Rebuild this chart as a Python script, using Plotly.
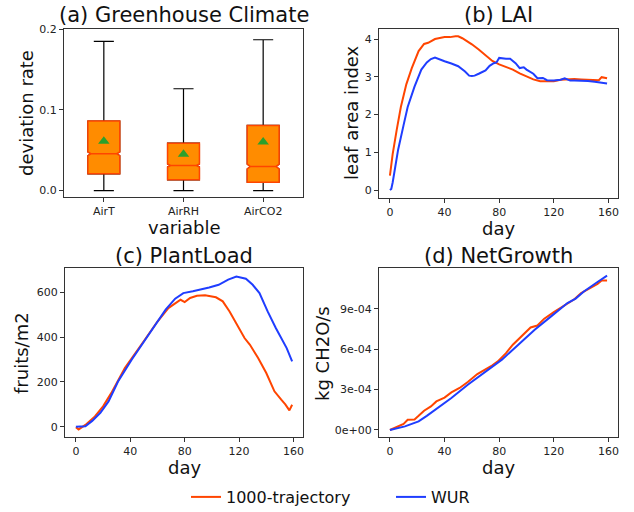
import plotly.graph_objects as go

# ---------------- data ----------------
variables = ["AirT", "AirRH", "AirCO2"]
box_q1 = [0.0207, 0.0133, 0.0104]
box_median = [0.0455, 0.0310, 0.0297]
box_q3 = [0.0860, 0.0587, 0.0806]
box_low = [0.0, 0.0, 0.0]
box_high = [0.1847, 0.1260, 0.1867]
box_mean = [0.0610, 0.0450, 0.0600]
box_notch = [0.0022, 0.0018, 0.0030]

lai_days_traj = [0, 2, 5, 8, 12, 16, 21, 25, 28, 33, 40, 44, 48, 50, 53, 56, 60, 65, 70, 75,
                 80, 85, 90, 95, 100, 105, 110, 115, 120, 125, 130, 135, 140, 145, 150, 153, 155, 157, 159]
lai_traj = [0.38, 0.95, 1.6, 2.2, 2.8, 3.23, 3.68, 3.87, 3.9, 4.0, 4.05, 4.05, 4.07, 4.07, 4.02, 3.96, 3.86, 3.72, 3.56, 3.42,
            3.33, 3.27, 3.19, 3.09, 3.0, 2.93, 2.88, 2.87, 2.88, 2.92, 2.94, 2.94, 2.93, 2.93, 2.92, 2.91, 2.99, 2.98, 2.96]
lai_days_wur = [0, 1, 2, 4, 6, 10, 13, 18, 23, 27, 30, 33, 36, 40, 45, 48, 50, 55, 58, 60,
                62, 65, 70, 73, 76, 78, 80, 85, 88, 92, 95, 98, 100, 105, 108, 112, 115, 120, 125, 128,
                132, 135, 140, 145, 150, 155, 159]
lai_wur = [0.0, 0.03, 0.2, 0.65, 1.07, 1.72, 2.2, 2.74, 3.19, 3.38, 3.47, 3.51, 3.46, 3.41, 3.35, 3.3, 3.28, 3.14, 3.03, 3.02,
           3.03, 3.08, 3.17, 3.29, 3.36, 3.38, 3.50, 3.48, 3.48, 3.36, 3.23, 3.25, 3.19, 3.08, 2.96, 2.97, 2.91, 2.90, 2.92, 2.96,
           2.90, 2.90, 2.90, 2.89, 2.87, 2.85, 2.82]

pl_days_traj = [0, 2, 4, 7, 14, 20, 26, 36, 49, 60, 68, 77, 80, 84, 89, 95, 103, 108, 113, 118,
                124, 128, 134, 140, 146, 151, 154, 157, 159]
pl_traj = [-2, -12, -4, 8, 46, 91, 150, 262, 374, 470, 530, 567, 557, 575, 585, 587, 578, 560, 515, 463,
           396, 366, 307, 240, 158, 121, 100, 73, 98]
pl_days_wur = [0, 4, 7, 12, 18, 24, 31, 41, 51, 58, 66, 73, 79, 86, 92, 98, 105, 112, 118, 125,
               130, 135, 141, 147, 155, 159]
pl_wur = [0, 0, 2, 26, 62, 113, 202, 299, 389, 456, 523, 572, 597, 605, 612, 622, 634, 657, 671, 661,
          634, 597, 515, 441, 351, 292]

ng_days_traj = [0, 3, 6, 10, 13, 18, 21, 25, 30, 34, 40, 45, 51, 57, 64, 70, 75, 79, 85, 90,
                97, 103, 108, 113, 120, 129, 135, 140, 146, 152, 155, 159]
ng_traj_e4 = [0, 0.12, 0.27, 0.45, 0.76, 0.78, 1.05, 1.43, 1.75, 2.12, 2.4, 2.79, 3.12, 3.56, 4.15, 4.5, 4.8, 5.09, 5.7, 6.33,
              7.0, 7.61, 7.75, 8.26, 8.75, 9.35, 9.7, 10.16, 10.5, 10.83, 11.1, 11.1]
ng_days_wur = [0, 5, 11, 16, 21, 27, 33, 45, 57, 69, 82, 94, 106, 118, 130, 136, 142, 152, 159]
ng_wur_e4 = [0, 0.1, 0.27, 0.45, 0.64, 1.05, 1.5, 2.37, 3.36, 4.23, 5.22, 6.33, 7.44, 8.43, 9.42, 9.75, 10.28, 10.98, 11.45]

day_ticks = [0, 40, 80, 120, 160]
ng_tickvals = [0, 3e-4, 6e-4, 9e-4]
ng_ticktext = ["0e+00", "3e-04", "6e-04", "9e-04"]

# ---------------- figure ----------------
W, H = 634, 512
C_TRAJ = "#ff4500"
C_WUR = "#1f3dff"
FONT = "DejaVu Sans"


def dx(a, b):
    return [a / W, b / W]


def dy(top, bottom):
    return [1 - bottom / H, 1 - top / H]


fig = go.Figure()

# (a) boxes: black whiskers underneath, orange boxes on top
fig.add_trace(go.Box(
    x=variables, q1=box_q1, median=box_median, q3=box_q3,
    lowerfence=box_low, upperfence=box_high,
    notched=True, notchspan=box_notch, notchwidth=0.1,
    width=0.4, whiskerwidth=0.63, boxpoints=False,
    line=dict(color="black", width=1.2), fillcolor="#ff8c00",
    showlegend=False, hoverinfo="skip", xaxis="x", yaxis="y"))
fig.add_trace(go.Box(
    x=variables, q1=box_q1, median=box_median, q3=box_q3,
    lowerfence=box_q1, upperfence=box_q3,
    notched=True, notchspan=box_notch, notchwidth=0.1,
    width=0.4, whiskerwidth=0, boxpoints=False,
    line=dict(color=C_TRAJ, width=1.5), fillcolor="#ff8c00",
    showlegend=False, xaxis="x", yaxis="y"))
fig.add_trace(go.Scatter(
    x=variables, y=box_mean, mode="markers",
    marker=dict(symbol="triangle-up", size=10, color="#2ca02c"),
    showlegend=False, xaxis="x", yaxis="y"))

# (b)(c)(d) lines
series = [
    ("x2", "y2", lai_days_traj, lai_traj, lai_days_wur, lai_wur, 1),
    ("x3", "y3", pl_days_traj, pl_traj, pl_days_wur, pl_wur, 1),
    ("x4", "y4", ng_days_traj, ng_traj_e4, ng_days_wur, ng_wur_e4, 1e-4),
]
for i, (xa, ya, dt, vt, dw, vw, sc) in enumerate(series):
    fig.add_trace(go.Scatter(x=dt, y=[v * sc for v in vt], mode="lines",
                             line=dict(color=C_TRAJ, width=2), name="1000-trajectory",
                             legendgroup="traj", showlegend=(i == 0), xaxis=xa, yaxis=ya))
    fig.add_trace(go.Scatter(x=dw, y=[v * sc for v in vw], mode="lines",
                             line=dict(color=C_WUR, width=2), name="WUR",
                             legendgroup="wur", showlegend=(i == 0), xaxis=xa, yaxis=ya))

axis_style = dict(showline=True, mirror=True, linecolor="#333", linewidth=1,
                  ticks="outside", ticklen=4, tickcolor="#333", showgrid=False,
                  zeroline=False, automargin=False,
                  tickfont=dict(family=FONT, size=11, color="#222"))

fig.update_layout(
    width=W, height=H, margin=dict(l=0, r=0, t=0, b=0, autoexpand=False),
    paper_bgcolor="white", plot_bgcolor="white", boxmode="overlay",
    font=dict(family=FONT, color="#111"),
    xaxis=dict(domain=dx(64, 303), type="category", range=[-0.5, 2.5], anchor="y", **axis_style),
    yaxis=dict(domain=dy(29, 197), range=[-0.008, 0.2], tickvals=[0, 0.1, 0.2],
               tickformat=".1f", anchor="x", **axis_style),
    xaxis2=dict(domain=dx(379, 618), range=[-8, 167], tickvals=day_ticks, anchor="y2", **axis_style),
    yaxis2=dict(domain=dy(29, 198), range=[-0.21, 4.265], tickvals=[0, 1, 2, 3, 4], anchor="x2", **axis_style),
    xaxis3=dict(domain=dx(65, 303), range=[-8, 167], tickvals=day_ticks, anchor="y3", **axis_style),
    yaxis3=dict(domain=dy(268, 437), range=[-46, 709], tickvals=[0, 200, 400, 600], anchor="x3", **axis_style),
    xaxis4=dict(domain=dx(379, 618), range=[-8, 167], tickvals=day_ticks, anchor="y4", **axis_style),
    yaxis4=dict(domain=dy(268, 437), range=[-0.52e-4, 12.02e-4], tickvals=ng_tickvals,
                ticktext=ng_ticktext, anchor="x4", **axis_style),
    legend=dict(orientation="h", x=186 / W, y=1 - 497 / H, xanchor="left", yanchor="middle",
                entrywidth=160, entrywidthmode="pixels",
                font=dict(family=FONT, size=16, color="#111"), bgcolor="rgba(0,0,0,0)"),
)

texts = [
    # (text, x px, y px, size, angle)
    ("(a) Greenhouse Climate", 184, 15, 21, 0),
    ("(b) LAI", 498, 15, 21, 0),
    ("(c) PlantLoad", 184, 256, 21, 0),
    ("(d) NetGrowth", 498, 256, 21, 0),
    ("deviation rate", 26, 113, 18, -90),
    ("variable", 184, 227, 18, 0),
    ("leaf area index", 351, 113, 18, -90),
    ("day", 498, 228, 18, 0),
    ("fruits/m2", 21, 353, 18, -90),
    ("day", 184, 467, 18, 0),
    ("kg CH2O/s", 322, 353, 18, -90),
    ("day", 498, 467, 18, 0),
]
for t, x, y, s, a in texts:
    fig.add_annotation(text=t, x=x / W, y=1 - y / H, xref="paper", yref="paper",
                       xanchor="center", yanchor="middle", showarrow=False, textangle=a,
                       font=dict(family=FONT, size=s, color="#111"))

fig.write_html("out.html", config={"displayModeBar": False},
               post_script="document.body.style.margin='0px';")
